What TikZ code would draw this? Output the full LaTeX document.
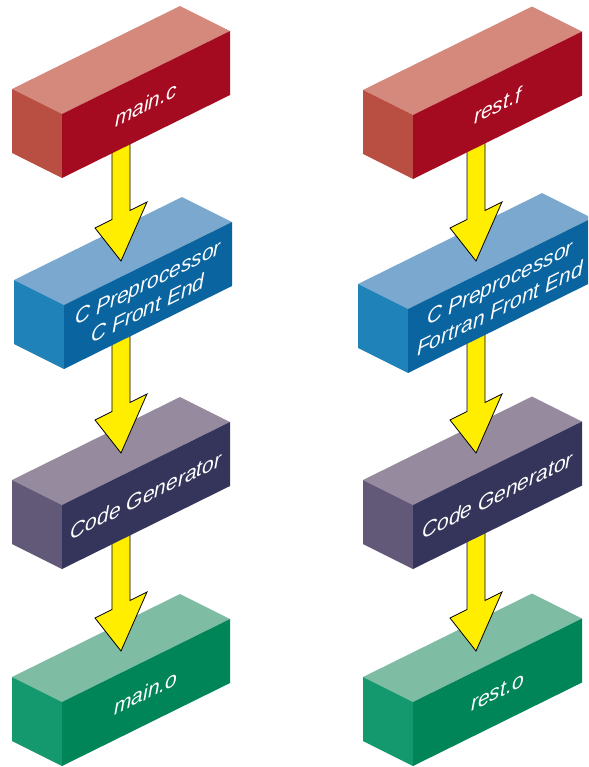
\documentclass[tikz,border=0pt]{standalone}
\usepackage{fontspec}
\setmainfont{Liberation Sans}

\definecolor{redtop}{HTML}{D4897C}
\definecolor{redside}{HTML}{B84F42}
\definecolor{redfront}{HTML}{A50B20}
\definecolor{bluetop}{HTML}{7AA8CE}
\definecolor{blueside}{HTML}{1F82B9}
\definecolor{bluefront}{HTML}{0A64A0}
\definecolor{purpletop}{HTML}{968A9E}
\definecolor{purpleside}{HTML}{625878}
\definecolor{purplefront}{HTML}{35345A}
\definecolor{greentop}{HTML}{7EBCA4}
\definecolor{greenside}{HTML}{14996F}
\definecolor{greenfront}{HTML}{008558}
\definecolor{arrowyellow}{HTML}{FFEE00}

\tikzset{
  flow/.style={fill=arrowyellow, draw=black, line width=0.8pt, line join=miter},
  slabtext/.style={text=white, font=\itshape\fontsize{21}{26}\selectfont, align=center, yslant=0.494},
}

% slab: name, front bottom left x, y, front width, colour, text
\newcommand\slab[6]{%
  \coordinate (#1) at (#2,#3);
  \fill[#5top] (#2-50,#3-89) -- (#2+#4-50,#3-0.494*#4-89) -- (#2+#4,#3-0.494*#4-64) -- (#2,#3-64) -- cycle;
  \fill[#5side] (#2-50,#3-25) -- (#2-50,#3-89) -- (#2,#3-64) -- (#2,#3) -- cycle;
  \fill[#5front] (#2,#3) -- (#2,#3-64) -- (#2+#4,#3-0.494*#4-64) -- (#2+#4,#3-0.494*#4) -- cycle;
  \node[slabtext] (#1-label) at (#2+#4/2,#3-0.247*#4-32) {#6};
}

% yellow arrow, tip at (#1-in)
\newcommand\flowarrow[1]{%
  \draw[flow] ([shift={(-9,-126)}]#1-in) -- ([shift={(-9,-41.5)}]#1-in) -- ([shift={(-26,-33)}]#1-in)
    -- (#1-in) -- ([shift={(26,-59)}]#1-in) -- ([shift={(9,-50.5)}]#1-in) -- ([shift={(9,-126)}]#1-in) -- cycle;
}

\begin{document}
\begin{tikzpicture}[x=1pt, y=-1pt]

\useasboundingbox (0,0) rectangle (588,767);
\clip (0,0) rectangle (588,767);

% left column
\slab{maino}{62}{766}{168}{green}{main.o}
\coordinate (maino-in) at (121,651);
\flowarrow{maino}
\slab{cgen}{62}{569}{168}{purple}{Code Generator}
\coordinate (cgen-in) at (121,453);
\flowarrow{cgen}
\slab{cfront}{64}{369}{168}{blue}{C Preprocessor\\C Front End}
\coordinate (cfront-in) at (121,261);
\flowarrow{cfront}
\slab{mainc}{62}{178}{168}{red}{main.c}

% right column
\slab{resto}{413}{766}{169}{green}{rest.o}
\coordinate (resto-in) at (476,651);
\flowarrow{resto}
\slab{fgen}{413}{569}{169}{purple}{Code Generator}
\coordinate (fgen-in) at (476,453);
\flowarrow{fgen}
\slab{ffront}{408}{373}{184}{blue}{C Preprocessor\\Fortran Front End}
\coordinate (ffront-in) at (476,261);
\flowarrow{ffront}
\slab{restf}{413}{179}{169}{red}{rest.f}

\end{tikzpicture}
\end{document}
